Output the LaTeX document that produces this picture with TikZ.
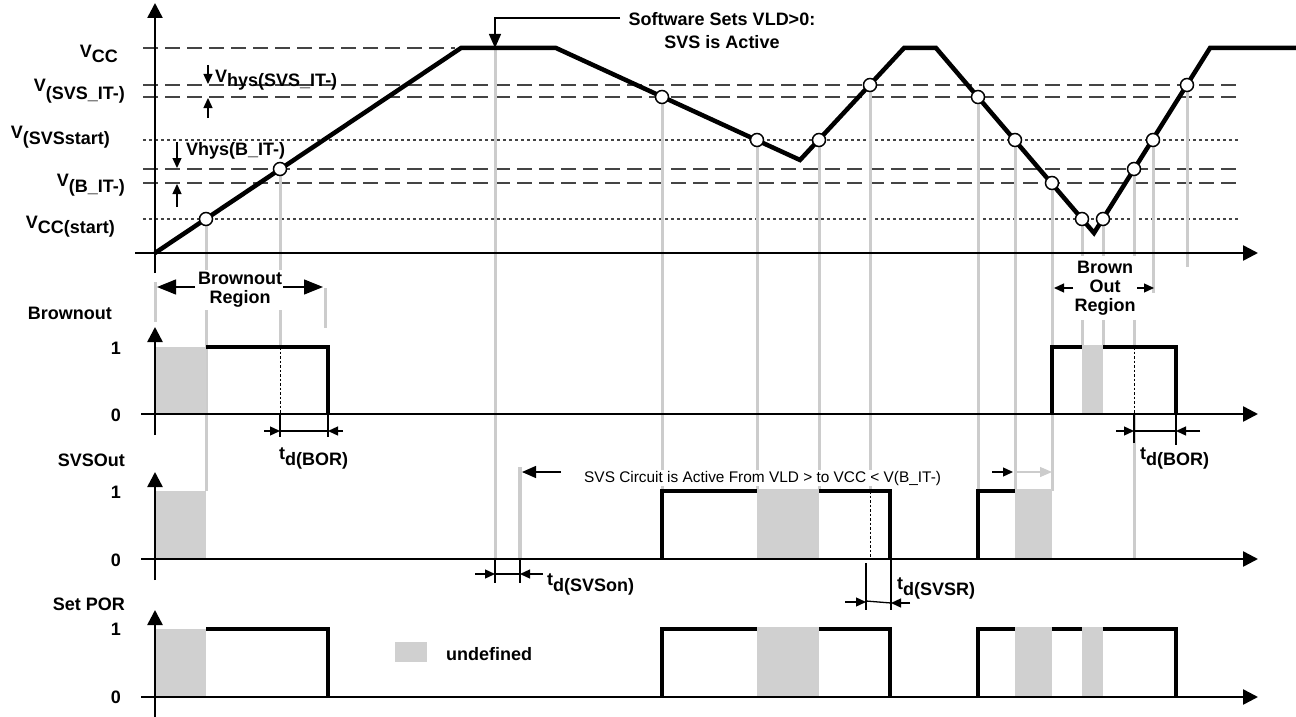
\documentclass[tikz,border=0pt]{standalone}
\usepackage{fontspec}
\setmainfont{Liberation Sans}
\usetikzlibrary{arrows.meta}
\definecolor{undef}{HTML}{D0D0D0}
\definecolor{guidec}{HTML}{CCCCCC}
\definecolor{thrc}{HTML}{444444}
\newcommand{\lowsub}[2][6pt]{\raisebox{-#1}{#2}}

\begin{document}
\begin{tikzpicture}[x=1pt, y=-1pt,
  wave/.style={line width=4.5pt, line join=miter},
  sig/.style={line width=4pt, line join=miter},
  axis/.style={line width=2.5pt},
  guide/.style={draw=guidec, line width=3pt},
  thr/.style={thrc, line width=2pt, dash pattern=on 15pt off 7pt},
  thrdot/.style={thrc, line width=1.2pt, dash pattern=on 3pt off 3pt},
  tdot/.style={line width=1pt, dash pattern=on 2.5pt off 2pt},
  dim/.style={line width=1.3pt},
  hit/.style={circle, draw, fill=white, line width=1.5pt, minimum size=13pt, inner sep=0pt},
  lab/.style={font=\bfseries\fontsize{18}{19}\selectfont, inner sep=0pt},
  note/.style={font=\fontsize{15.4}{18}\selectfont, inner sep=1pt},
  axarr/.style={-{Triangle[length=15pt,width=15pt]}},
  bigarr/.style={-{Triangle[length=19pt,width=15pt]}},
  medarr/.style={-{Triangle[length=14pt,width=12pt]}},
  smarr/.style={-{Triangle[length=10pt,width=9pt]}},
  ]
\useasboundingbox (0,0) rectangle (1296,717);

% ---- Threshold levels --------------------------------------------------------
\draw[thr] (143,48) -- (455,48);
\foreach \y in {85,97,169,183} \draw[thr] (143,\y) -- (1240,\y);
\foreach \y in {140,219} \draw[thrdot] (143,\y) -- (1240,\y);

% ---- Guide lines down from the crossings -------------------------------------
\foreach \x/\a/\b in {206/219/491, 280/169/347, 495/48/559, 662/97/491,
    757/140/491, 819/140/491, 870/85/491, 978/97/491, 1015/140/491,
    1052/183/491, 1082/219/347, 1103/219/347, 1134/169/347, 1134/414/559,
    1153/140/293, 1187/85/267}
  \draw[guide] (\x,\a) -- (\x,\b);
\draw[guide] (155,282) -- (155,322);
\draw[guide] (325,288) -- (325,328);
\draw[guide, line width=3.5pt] (520,467) -- (520,559);

% ---- Signals -----------------------------------------------------------------
% Brownout
\draw[sig] (206,347) -- (328,347) -- (328,414);
\draw[sig] (1052,414) -- (1052,347) -- (1176,347) -- (1176,414);
% SVSOut
\draw[sig] (662,559) -- (662,491) -- (890,491) -- (890,559);
\draw[sig] (978,559) -- (978,491) -- (1015,491);
% Set POR
\draw[sig] (206,629) -- (328,629) -- (328,697);
\draw[sig] (662,697) -- (662,629) -- (890,629) -- (890,697);
\draw[sig] (978,697) -- (978,629) -- (1176,629) -- (1176,697);

% undefined areas
\foreach \xa/\xb/\ya/\yb in {155/206/347/414, 1082/1103/345/414,
    155/206/491/559, 757/819/489/559, 1015/1052/489/559,
    155/206/629/697, 757/819/627/697, 1015/1052/627/697, 1082/1103/627/697}
  \fill[undef] (\xa,\ya) rectangle (\xb,\yb);

\draw[tdot] (280,347) -- (280,414);
\draw[tdot] (1134,347) -- (1134,414);
\draw[tdot] (870,491) -- (870,559);

% ---- Axes --------------------------------------------------------------------
\draw[axis, axarr] (155,273) -- (155,3);
\draw[axis, axarr] (135,253) -- (1258,253);
\foreach \top/\base/\bot in {327/414/435, 472/559/580, 610/697/717} {
  \draw[axis, axarr] (155,\bot) -- (155,\top);
  \draw[axis, axarr] (141,\base) -- (1258,\base);
}

% ---- VCC waveform ------------------------------------------------------------
\draw[wave] (155,253) -- (461,48) -- (556,48) -- (800,160) -- (904,48)
  -- (936,48) -- (1094,233) -- (1210,48) -- (1296,48);
\foreach \x/\y [count=\i] in {206/219, 280/169, 662/97, 757/140, 819/140,
    870/85, 978/97, 1015/140, 1052/183, 1082/219, 1103/219, 1134/169,
    1153/140, 1187/85}
  \node[hit] (c\i) at (\x,\y) {};

% ---- Level labels ------------------------------------------------------------
\node[lab, anchor=base east] (vcc)   at (118,58)  {V\lowsub[5pt]{CC}};
\node[lab, anchor=base east] (vsvs)  at (125,92)  {V\lowsub[8pt]{(SVS\_IT-)}};
\node[lab, anchor=base east] (vsvss) at (110,138) {V\lowsub{(SVSstart)}};
\node[lab, anchor=base east] (vb)    at (125,186) {V\lowsub{(B\_IT-)}};
\node[lab, anchor=base east] (vccs)  at (115,228) {V\lowsub[5pt]{CC(start)}};

% hysteresis marks
\draw[dim, smarr] (208,65) -- (208,84);
\draw[dim, smarr] (208,118) -- (208,98);
\node[lab, anchor=base west] (hyssvs) at (215,83) {V\lowsub[3pt]{hys(SVS\_IT-)}};
\draw[dim, smarr] (177,142) -- (177,168);
\draw[dim, smarr] (177,207) -- (177,184);
\node[lab, anchor=base west] (hysb) at (186,155) {Vhys(B\_IT-)};

% software event
\draw[dim, medarr] (620,18) -- (495,18) -- (495,48);
\node[lab, align=center, font=\bfseries\fontsize{18}{23}\selectfont]
  (sw) at (722,31) {Software Sets VLD>0:\\SVS is Active};

% ---- Brownout regions --------------------------------------------------------
\node[lab, align=center, fill=white, inner sep=2pt] (bor) at (240,290)
  {Brownout\\Region};
\draw[dim, bigarr] (195,287) -- (157,287);
\draw[dim, bigarr] (283,287) -- (323,287);

\node[lab, align=center, fill=white, inner xsep=2pt, inner ysep=5pt]
  (bo) at (1105,288) {Brown\\Out\\Region};
\draw[dim, smarr] (1073,288) -- (1054,288);
\draw[dim, smarr] (1137,288) -- (1154,288);

% ---- Panel labels ------------------------------------------------------------
\node[lab, anchor=base east] (brn)  at (112,319) {Brownout};
\node[lab, anchor=base east] (svso) at (125,466) {SVSOut};
\node[lab, anchor=base east] (spor) at (125,610) {Set POR};
\foreach \y/\v [count=\i] in {354/1, 421/0, 498/1, 566/0, 635/1, 703/0}
  \node[lab, anchor=base east] (lv\i) at (121,\y) {\v};

% ---- Delays ------------------------------------------------------------------
% t_d(BOR), left
\draw[dim] (280,414) -- (280,437);
\draw[dim] (328,414) -- (328,437);
\draw[dim, smarr] (264,431) -- (280,431);
\draw[dim] (280,431) -- (328,431);
\draw[dim, smarr] (343,431) -- (328,431);
\node[lab, anchor=base west] (tbora) at (279,459) {t\lowsub{d(BOR)}};
% t_d(BOR), right
\draw[dim] (1134,414) -- (1134,443);
\draw[dim] (1176,414) -- (1176,445);
\draw[dim, smarr] (1116,431) -- (1134,431);
\draw[dim] (1134,431) -- (1176,431);
\draw[dim, smarr] (1200,431) -- (1176,431);
\node[lab, anchor=base west] (tborb) at (1140,459) {t\lowsub{d(BOR)}};
% t_d(SVSon)
\draw[dim] (495,559) -- (495,583);
\draw[dim] (520,559) -- (520,583);
\draw[dim, smarr] (475,574) -- (495,574);
\draw[dim] (495,574) -- (520,574);
\draw[dim, smarr] (543,574) -- (520,574);
\node[lab, anchor=base west] (tsvson) at (547,585) {t\lowsub{d(SVSon)}};
% t_d(SVSR)
\draw[dim] (866,563) -- (866,610);
\draw[dim] (891,559) -- (891,610);
\draw[dim, smarr] (845,602) -- (866,602);
\draw[dim] (866,601) -- (891,603);
\draw[dim, smarr] (910,603) -- (891,603);
\node[lab, anchor=base west] (tsvsr) at (897,589) {t\lowsub{d(SVSR)}};

% ---- SVS active span ---------------------------------------------------------
\node[note, anchor=base west, fill=white] (svsnote) at (583,482)
  {SVS Circuit is Active From VLD > to VCC < V(B\_IT-)};
\draw[dim, medarr] (561,472) -- (522,472);
\draw[dim, smarr] (992,472) -- (1013,472);
\draw[guidec, line width=1.3pt, -{Triangle[length=12pt,width=10pt]}]
  (1015,472) -- (1052,472);

% ---- Legend ------------------------------------------------------------------
\node[fill=undef, minimum width=32pt, minimum height=20pt, inner sep=0pt]
  (legbox) at (411,652) {};
\node[lab, anchor=base west] (legtxt) at (446,660) {undefined};

\end{tikzpicture}
\end{document}
